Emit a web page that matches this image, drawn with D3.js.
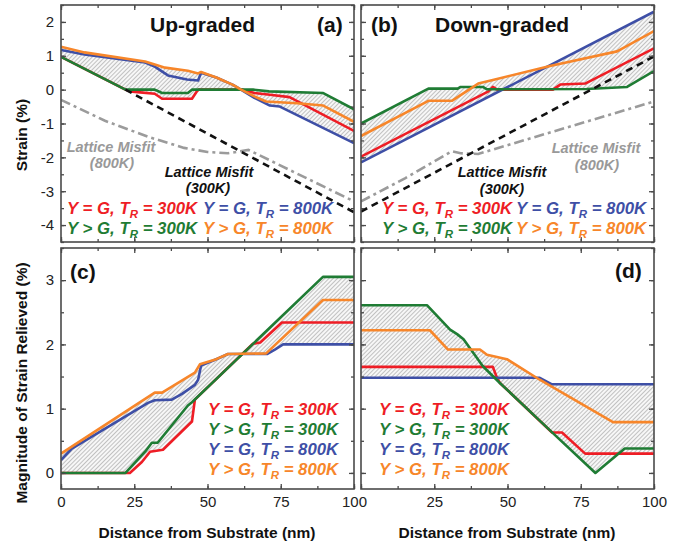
<!DOCTYPE html>
<html>
<head>
<meta charset="utf-8">
<script src="https://cdn.jsdelivr.net/npm/d3@7"></script>
<style>
  body { margin: 0; background: #fff; }
  text { font-family: "Liberation Sans", Arial, sans-serif; white-space: pre; }
</style>
</head>
<body>
<div id="chart"></div>
<script>
// ---- data ----
var xTicks = [0, 25, 50, 75, 100];
var strainTicks = [-4, -3, -2, -1, 0, 1, 2];
var relievedTicks = [0, 1, 2, 3];

// legend labels, order: Y=G 300K, Y>G 300K, Y=G 800K, Y>G 800K
var legendLhs = ["Y = G, T", "Y > G, T", "Y = G, T", "Y > G, T"];
var legendTemp = ["300K", "300K", "800K", "800K"];

// (a) up-graded strain
var upStrainEq300 = [[0,0.97],[22,0],[23.5,-0.05],[27,-0.08],[32,-0.12],[34.5,-0.27],[44.7,-0.27],[46.4,-0.05],[47,0],[62,0],[66,-0.1],[71.3,-0.15],[78,-0.22],[100,-1.22]];
var upStrainGt300 = [[0,0.97],[22,0],[32,0],[34.5,-0.1],[43.3,-0.1],[44.7,0],[65.6,0],[71,-0.05],[89.5,-0.1],[100,-0.58]];
var upStrainEq800 = [[0,1.17],[8,1.04],[28.7,0.8],[32,0.68],[36.5,0.42],[43,0.3],[46.8,0.27],[47.8,0.5],[53,0.36],[58.7,0.14],[61,0.02],[66,-0.24],[71.3,-0.47],[74.7,-0.5],[100,-1.58]];
var upStrainGt800 = [[0,1.27],[8,1.1],[28.7,0.83],[32,0.74],[35.5,0.65],[43.3,0.56],[46.8,0.48],[47.8,0.52],[53,0.36],[58.7,0.14],[61,0.02],[66,-0.2],[70,-0.35],[80.5,-0.4],[89.5,-0.47],[100,-0.95]];
var upMisfit300 = [[22,0],[100,-3.62]];
var upMisfit800 = [[0,-0.3],[15,-0.92],[30,-1.4],[42,-1.72],[50,-1.84],[57,-1.88],[64,-1.78],[100,-3.3]];

// (b) down-graded strain
var downStrainEq300 = [[0,-1.98],[43.5,-0.05],[45,0.08],[46.5,0],[65.5,0],[68,0.15],[76.5,0.18],[100,1.22]];
var downStrainGt300 = [[0,-1.0],[23,0.03],[33,0.03],[34,0.08],[41.6,0.08],[43,0.01],[77,0.02],[90.8,0.08],[100,0.55]];
var downStrainEq800 = [[0,-2.15],[100,2.3]];
var downStrainGt800 = [[0,-1.37],[23,-0.33],[31,-0.33],[40,0.18],[45.7,0.3],[64.5,0.7],[87.4,1.13],[100,1.73]];
var downMisfit300 = [[0,-3.6],[100,0.98]];
var downMisfit800 = [[0,-3.3],[15,-2.62],[31,-1.82],[34,-1.88],[40,-1.9],[100,-0.35]];

// (c) up-graded strain relieved
var upRelEq300 = [[0,0],[22,0],[23.5,0],[27.6,0.17],[30.4,0.33],[34.8,0.36],[44.7,0.8],[45.7,1.14],[47,1.2],[65.5,2.01],[68,2.03],[75.4,2.34],[100,2.34]];
var upRelGt300 = [[0,0],[22,0],[28.7,0.33],[31,0.47],[33,0.47],[43.3,1.05],[44.7,1.1],[89.4,3.05],[100,3.05]];
var upRelEq800 = [[0,0.2],[3.7,0.38],[29.7,1.09],[32,1.13],[37.8,1.14],[41.3,1.23],[45.7,1.37],[46.8,1.45],[47.8,1.67],[53,1.77],[57,1.85],[70.3,1.85],[73,1.92],[75.8,2.0],[100,2.0]];
var upRelGt800 = [[0,0.3],[32,1.25],[34.5,1.25],[45.7,1.56],[47.4,1.69],[53,1.77],[57,1.85],[70,1.86],[89.4,2.69],[100,2.69]];

// (d) down-graded strain relieved
var downRelEq300 = [[0,1.65],[45,1.65],[46.5,1.47],[47.4,1.4],[65.2,0.63],[68.6,0.63],[76.5,0.3],[100,0.3]];
var downRelGt300 = [[0,2.61],[22.5,2.61],[30.4,2.23],[32.8,2.16],[35,2.08],[41.6,1.66],[47.4,1.4],[65.5,0.62],[80,0],[90,0.38],[100,0.38]];
var downRelEq800 = [[0,1.48],[61,1.48],[65,1.38],[100,1.38]];
var downRelGt800 = [[0,2.22],[23.5,2.22],[29.7,1.92],[40.6,1.92],[43,1.84],[49.8,1.77],[61,1.45],[86,0.79],[100,0.79]];

// ---- styles / layout ----
var colors = ["#ee1d25", "#1f7c34", "#3e4fa6", "#f7862a"];
var drawOrder = [0, 2, 1, 3]; // red, blue, green, orange on top
var frameColor = "#4a4a4a";
var font = "\"Liberation Sans\", Arial, sans-serif";

var svg = d3.select("#chart").append("svg")
    .attr("width", 690)
    .attr("height", 545)
    .style("background", "#fff");

var defs = svg.append("defs");
var hatch = defs.append("pattern")
    .attr("id", "hatch")
    .attr("patternUnits", "userSpaceOnUse")
    .attr("width", 3).attr("height", 3)
    .attr("patternTransform", "rotate(45)");
hatch.append("rect").attr("width", 3).attr("height", 3).attr("fill", "#f7f7f7");
hatch.append("line").attr("x1", 0.5).attr("y1", 0).attr("x2", 0.5).attr("y2", 3)
    .attr("stroke", "#b4b4b4").attr("stroke-width", 0.8);

var panels = [
  { id: "a", x0: 61, x1: 354, y0: 5, y1: 242, ydom: [-4.5, 2.5], series: [upStrainEq300, upStrainGt300, upStrainEq800, upStrainGt800], m300: upMisfit300, m800: upMisfit800, yLabels: strainTicks, xLabels: null },
  { id: "b", x0: 361, x1: 654, y0: 5, y1: 242, ydom: [-4.5, 2.5], series: [downStrainEq300, downStrainGt300, downStrainEq800, downStrainGt800], m300: downMisfit300, m800: downMisfit800, yLabels: null, xLabels: null },
  { id: "c", x0: 61, x1: 354, y0: 248, y1: 489, ydom: [-0.25, 3.5], series: [upRelEq300, upRelGt300, upRelEq800, upRelGt800], yLabels: relievedTicks, xLabels: xTicks },
  { id: "d", x0: 361, x1: 654, y0: 248, y1: 489, ydom: [-0.25, 3.5], series: [downRelEq300, downRelGt300, downRelEq800, downRelGt800], yLabels: null, xLabels: xTicks.slice(1) }
];

function interp(pts) {
  return d3.scaleLinear().domain(pts.map(function(d) { return d[0]; }))
    .range(pts.map(function(d) { return d[1]; })).clamp(true);
}

panels.forEach(function(p) {
  var x = d3.scaleLinear().domain([0, 100]).range([p.x0, p.x1]);
  var y = d3.scaleLinear().domain(p.ydom).range([p.y1, p.y0]);
  var g = svg.append("g").attr("class", "panel-" + p.id);

  g.append("clipPath").attr("id", "clip-" + p.id)
    .append("rect").attr("x", p.x0).attr("y", p.y0)
    .attr("width", p.x1 - p.x0).attr("height", p.y1 - p.y0);

  var plot = g.append("g").attr("clip-path", "url(#clip-" + p.id + ")");

  // hatched envelope between the four curves
  var fns = p.series.map(interp);
  var xs = d3.range(0, 100.001, 0.25);
  p.series.forEach(function(s) { s.forEach(function(d) { xs.push(d[0]); }); });
  xs = Array.from(new Set(xs)).sort(d3.ascending);
  var env = xs.map(function(v) {
    var vals = fns.map(function(f) { return f(v); });
    return { x: v, lo: d3.min(vals), hi: d3.max(vals) };
  });
  plot.append("path")
    .datum(env)
    .attr("fill", "url(#hatch)")
    .attr("d", d3.area().x(function(d) { return x(d.x); })
      .y0(function(d) { return y(d.lo); }).y1(function(d) { return y(d.hi); }));

  var line = d3.line().x(function(d) { return x(d[0]); }).y(function(d) { return y(d[1]); });

  drawOrder.forEach(function(i) {
    plot.append("path")
      .datum(p.series[i])
      .attr("fill", "none")
      .attr("stroke", colors[i])
      .attr("stroke-width", 2.6)
      .attr("stroke-linejoin", "round")
      .attr("d", line);
  });

  if (p.m800) {
    plot.append("path").datum(p.m800)
      .attr("fill", "none").attr("stroke", "#9b9b9b").attr("stroke-width", 2.6)
      .attr("stroke-dasharray", "10,4,3,4").attr("d", line);
    plot.append("path").datum(p.m300)
      .attr("fill", "none").attr("stroke", "#111").attr("stroke-width", 2.6)
      .attr("stroke-dasharray", "7,5").attr("d", line);
  }

  // ticks on all four sides, pointing inward
  var xMinor = d3.range(0, 100.001, 12.5);
  var yMinor = d3.range(Math.ceil(p.ydom[0] * 2) / 2, p.ydom[1] + 0.001, 0.5);
  var yMajor = yMinor.filter(function(v) { return v === Math.round(v); });

  function side(axis, tx, ty, vals, size, labels) {
    var a = axis.tickValues(vals).tickSize(-size).tickPadding(7)
      .tickFormat(labels ? function(d) { return labels.indexOf(d) >= 0 ? d : ""; } : "");
    var ag = g.append("g").attr("transform", "translate(" + tx + "," + ty + ")").call(a);
    ag.select(".domain").remove();
    ag.selectAll("line").attr("stroke", frameColor).attr("stroke-width", 1.3);
    ag.selectAll("text").attr("fill", "#222").style("font-size", "15px").style("font-family", font);
  }
  side(d3.axisBottom(x), 0, p.y1, xMinor, 3, null);
  side(d3.axisBottom(x), 0, p.y1, xTicks, 5, p.xLabels);
  side(d3.axisTop(x), 0, p.y0, xMinor, 3, null);
  side(d3.axisTop(x), 0, p.y0, xTicks, 5, null);
  side(d3.axisLeft(y), p.x0, 0, yMinor, 3, null);
  side(d3.axisLeft(y), p.x0, 0, yMajor, 5, p.yLabels);
  side(d3.axisRight(y), p.x1, 0, yMinor, 3, null);
  side(d3.axisRight(y), p.x1, 0, yMajor, 5, null);

  g.append("rect")
    .attr("x", p.x0).attr("y", p.y0)
    .attr("width", p.x1 - p.x0).attr("height", p.y1 - p.y0)
    .attr("fill", "none").attr("stroke", frameColor).attr("stroke-width", 1.6);
});

// ---- text ----
function label(x, y, txt, opts) {
  var t = svg.append("text").attr("x", x).attr("y", y).text(txt)
    .style("font-family", font)
    .style("font-size", (opts.size || 15) + "px")
    .style("font-weight", "bold")
    .attr("fill", opts.color || "#111");
  if (opts.italic) t.style("font-style", "italic");
  if (opts.anchor) t.attr("text-anchor", opts.anchor);
  if (opts.rotate) t.attr("transform", "rotate(-90," + x + "," + y + ")");
  return t;
}

function legendItem(x, y, i) {
  var t = svg.append("text").attr("x", x).attr("y", y)
    .attr("fill", colors[i])
    .style("font-family", font)
    .style("font-size", "16.8px")
    .style("font-weight", "bold")
    .style("font-style", "italic");
  t.append("tspan").text(legendLhs[i]);
  t.append("tspan").attr("dy", 4).style("font-size", "11.5px").text("R");
  t.append("tspan").attr("dy", -4).text(" = " + legendTemp[i]);
}

label(150, 32, "Up-graded", { size: 21 });
label(317, 32, "(a)", { size: 21 });
label(371, 32, "(b)", { size: 21 });
label(435, 32, "Down-graded", { size: 21 });
label(70, 279, "(c)", { size: 21 });
label(615, 278, "(d)", { size: 21 });

label(111, 152, "Lattice Misfit", { size: 14.5, italic: true, anchor: "middle", color: "#999" });
label(112, 168, "(800K)", { size: 14.5, italic: true, anchor: "middle", color: "#999" });
label(209, 177, "Lattice Misfit", { size: 14.5, italic: true, anchor: "middle" });
label(208, 193, "(300K)", { size: 14.5, italic: true, anchor: "middle" });
label(502, 177, "Lattice Misfit", { size: 14.5, italic: true, anchor: "middle" });
label(502, 194, "(300K)", { size: 14.5, italic: true, anchor: "middle" });
label(596, 153, "Lattice Misfit", { size: 14.5, italic: true, anchor: "middle", color: "#999" });
label(597, 170, "(800K)", { size: 14.5, italic: true, anchor: "middle", color: "#999" });

// legends (a), (b): two rows
legendItem(67, 214, 0); legendItem(203, 214, 2);
legendItem(67, 234, 1); legendItem(203, 234, 3);
legendItem(382, 214, 0); legendItem(516, 214, 2);
legendItem(382, 234, 1); legendItem(516, 234, 3);
// legends (c), (d): four rows
[0, 1, 2, 3].forEach(function(i, k) {
  legendItem(208, 415 + k * 20, i);
  legendItem(379, 415 + k * 20, i);
});

label(27, 135, "Strain (%)", { size: 15.5, anchor: "middle", rotate: true });
label(27, 383, "Magnitude of Strain Relieved (%)", { size: 15.5, anchor: "middle", rotate: true });
label(207, 538, "Distance from Substrate (nm)", { size: 15.5, anchor: "middle" });
label(507, 538, "Distance from Substrate (nm)", { size: 15.5, anchor: "middle" });
</script>
</body>
</html>
